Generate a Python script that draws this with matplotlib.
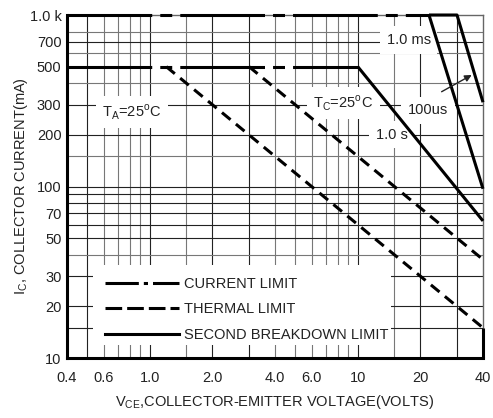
import matplotlib
matplotlib.use('Agg')
import matplotlib.pyplot as plt
from matplotlib.lines import Line2D
from matplotlib.patches import Rectangle

plt.rcParams['font.family'] = ['Liberation Sans', 'DejaVu Sans']
plt.rcParams['mathtext.fontset'] = 'custom'
plt.rcParams['mathtext.rm'] = 'Liberation Sans'
plt.rcParams['lines.scale_dashes'] = False

# --- data (V in volts, I in mA) ---
cl_hi_v = [0.4, 22]
cl_hi_i = [1000, 1000]
cl_lo_v = [0.4, 10]
cl_lo_i = [500, 500]
th_ta_v = [1.2, 40]
th_ta_i = [500, 15]
th_tc_v = [3.0, 40]
th_tc_i = [500, 37.5]
sb_1s_v = [10, 40]
sb_1s_i = [500, 63]
sb_1ms_v = [22, 40]
sb_1ms_i = [1000, 97]
sb_100us_v = [22, 30, 40]
sb_100us_i = [1000, 1000, 310]
sb_ta_v = [40, 40]
sb_ta_i = [15, 10]

x_ticks = [0.4, 0.6, 1, 2, 4, 6, 10, 20, 40]
x_labels = ['0.4', '0.6', '1.0', '2.0', '4.0', '6.0', '10', '20', '40']
y_ticks = [10, 20, 30, 50, 70, 100, 200, 300, 500, 700, 1000]
y_labels = ['10', '20', '30', '50', '70', '100', '200', '300', '500', '700', '1.0 k']

vgrid_dark = [0.5, 1, 2, 3, 10, 20, 30]
vgrid_light = [0.6, 0.7, 0.8, 0.9, 1.5, 4, 5, 6, 7, 8, 9, 15]
hgrid_dark = [15, 20, 30, 50, 60, 70, 80, 90, 100, 200, 300, 700]
hgrid_light = [40, 150, 400, 600, 800]

fs = 10.5
tc = '#222222'

fig = plt.figure(figsize=(4.93, 4.18), dpi=100)
ax = fig.add_axes([0.1359, 0.1435, 0.8438, 0.8206])
ax.set_xscale('log')
ax.set_yscale('log')
ax.set_xlim(0.4, 40)
ax.set_ylim(10, 1000)

# grid
for v in vgrid_dark:
    ax.axvline(v, color='#222222', lw=0.8, zorder=1)
for v in vgrid_light:
    ax.axvline(v, color='#777777', lw=0.8, zorder=1)
for v in hgrid_dark:
    ax.axhline(v, color='#222222', lw=0.8, zorder=1)
for v in hgrid_light:
    ax.axhline(v, color='#777777', lw=0.8, zorder=1)

lw = 2.2
dashdot = (0, (61, 5.8, 8.6, 5.8))
dashed = (0, (8, 5))

ax.plot(cl_hi_v, cl_hi_i, color='black', lw=lw, linestyle=dashdot, zorder=4, clip_on=False)
ax.plot(cl_lo_v, cl_lo_i, color='black', lw=lw, linestyle=dashdot, zorder=4)
ax.plot(th_ta_v, th_ta_i, color='black', lw=lw, linestyle=dashed, zorder=4)
ax.plot(th_tc_v, th_tc_i, color='black', lw=lw, linestyle=dashed, zorder=4)
for xs, ys in [(sb_1s_v, sb_1s_i), (sb_1ms_v, sb_1ms_i),
               (sb_100us_v, sb_100us_i), (sb_ta_v, sb_ta_i)]:
    ax.plot(xs, ys, color='black', lw=lw, solid_capstyle='butt', zorder=4, clip_on=False)

box = dict(boxstyle='square,pad=0.45', fc='white', ec='none')
ax.text(0.82, 272, r'T$_\mathregular{A}$=25$^\mathregular{o}$C', fontsize=fs,
        ha='center', va='center', bbox=box, zorder=3, color=tc)
ax.text(8.5, 307, r'T$_\mathregular{C}$=25$^\mathregular{o}$C', fontsize=fs,
        ha='center', va='center', bbox=box, zorder=3, color=tc)
ax.text(17.6, 715, '1.0 ms', fontsize=fs, ha='center', va='center',
        bbox=box, zorder=3, color=tc)
ax.text(21.8, 279, '100us', fontsize=fs, ha='center', va='center',
        bbox=box, zorder=3, color=tc)
ax.text(14.6, 200, '1.0 s', fontsize=fs, ha='center', va='center',
        bbox=box, zorder=3, color=tc)
ax.annotate('', xy=(35.3, 447), xytext=(25.3, 357),
            arrowprops=dict(arrowstyle='-|>', color=tc, lw=1.0,
                            mutation_scale=10, shrinkA=0, shrinkB=0), zorder=5)

# legend: white box behind, frameless legend on top
ax.add_patch(Rectangle((0.0625, 0.038), 0.716, 0.233, transform=ax.transAxes,
                       fc='white', ec='none', zorder=3))
handles = [
    Line2D([], [], color='black', lw=lw, linestyle=(0, (24, 3.6, 3, 3.6))),
    Line2D([], [], color='black', lw=lw, linestyle=(0, (12, 3.6))),
    Line2D([], [], color='black', lw=lw),
]
leg = ax.legend(handles, ['CURRENT LIMIT', 'THERMAL LIMIT', 'SECOND BREAKDOWN LIMIT'],
                loc='upper left', bbox_to_anchor=(0.0913, 0.237),
                fontsize=fs, frameon=False,
                handlelength=5.1, handletextpad=0.35, labelspacing=0.8,
                borderaxespad=0, borderpad=0, labelcolor=tc)
leg.set_zorder(4)

ax.set_xticks(x_ticks)
ax.set_xticklabels(x_labels)
ax.set_yticks(y_ticks)
ax.set_yticklabels(y_labels)
ax.minorticks_off()
ax.tick_params(axis='both', length=0, labelsize=fs, colors=tc)
ax.tick_params(axis='x', pad=9)
ax.tick_params(axis='y', pad=4)

for side in ['left', 'bottom']:
    ax.spines[side].set_linewidth(2.2)
    ax.spines[side].set_color('black')
for side in ['top', 'right']:
    ax.spines[side].set_linewidth(1.0)
    ax.spines[side].set_color('#666666')
    ax.spines[side].set_zorder(2)

ax.set_xlabel(r'V$_\mathregular{CE}$,COLLECTOR-EMITTER VOLTAGE(VOLTS)',
              fontsize=fs, color=tc, labelpad=6)
ax.set_ylabel(r'I$_\mathregular{C}$, COLLECTOR CURRENT(mA)',
              fontsize=fs, color=tc, labelpad=0)

fig.savefig('out.png', dpi=100)
